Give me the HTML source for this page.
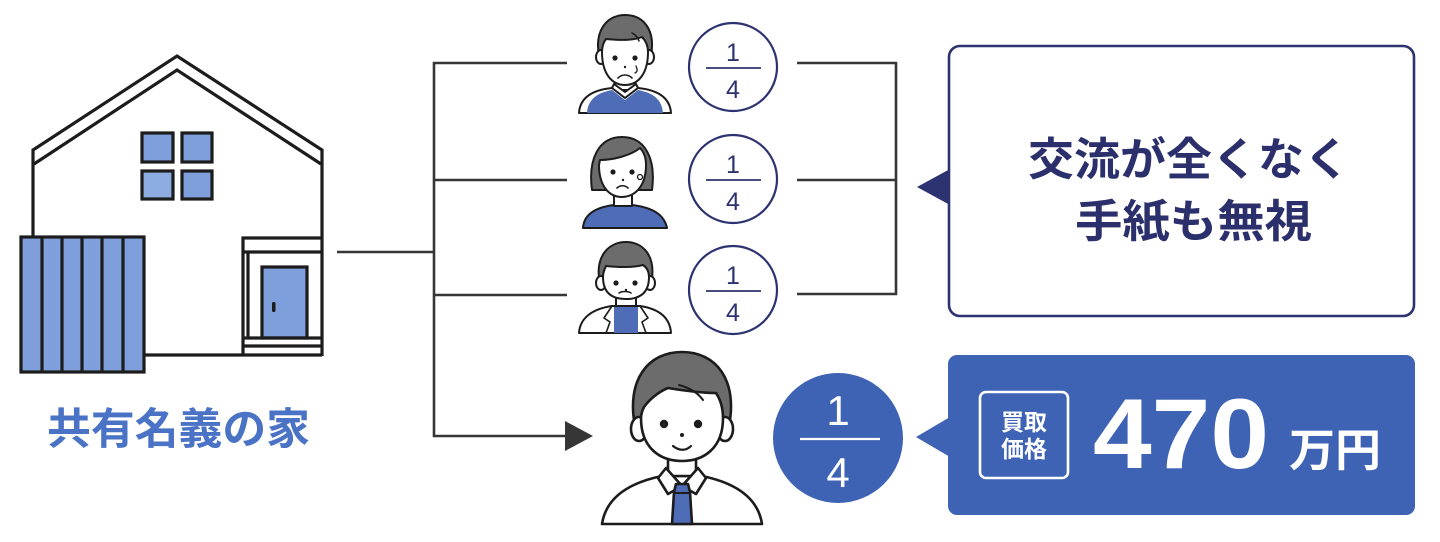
<!DOCTYPE html>
<html><head><meta charset="utf-8">
<style>
html,body{margin:0;padding:0;background:#fff;}
svg{display:block;}
.t{font-family:"Liberation Sans","Noto Sans CJK JP",sans-serif;}
</style></head>
<body>
<svg width="1440" height="542" viewBox="0 0 1440 542" xmlns="http://www.w3.org/2000/svg">
<rect width="1440" height="542" fill="#fff"/>

<!-- ===== HOUSE ===== -->
<g stroke="#1c1c1c" stroke-width="3.2" fill="none" stroke-linejoin="miter">
  <polyline points="33,237 33,150 177,56 322,150 322,356"/>
  <polyline points="34,164 177,70 321,164"/>
  <line x1="144" y1="355" x2="322" y2="355"/>
  <rect x="142" y="133" width="31" height="29" fill="#7f9fdc"/>
  <rect x="182" y="133" width="30" height="29" fill="#7f9fdc"/>
  <rect x="142" y="171" width="31" height="28" fill="#8dade2"/>
  <rect x="182" y="171" width="30" height="28" fill="#7f9fdc"/>
  <rect x="21" y="237" width="123" height="135" fill="#7f9fdc"/>
  <line x1="42" y1="237" x2="42" y2="372"/>
  <line x1="62" y1="237" x2="62" y2="372"/>
  <line x1="82" y1="237" x2="82" y2="372"/>
  <line x1="102" y1="237" x2="102" y2="372"/>
  <line x1="123" y1="237" x2="123" y2="372"/>
  <polyline points="243,355 243,238 322,238"/>
  <line x1="243" y1="252" x2="322" y2="252"/>
  <line x1="248" y1="252" x2="248" y2="338"/>
  <rect x="262" y="267" width="45" height="71" fill="#7f9fdc"/>
  <line x1="243" y1="338" x2="322" y2="338"/>
  <line x1="243" y1="346" x2="322" y2="346"/>
</g>
<rect x="272" y="302" width="3.5" height="10" rx="1.5" fill="#1c1c1c"/>

<text class="t" x="47" y="444" font-size="43" font-weight="bold" fill="#4a73c5" textLength="263" lengthAdjust="spacingAndGlyphs">共有名義の家</text>

<!-- ===== CONNECTORS ===== -->
<g stroke="#363636" stroke-width="2.6" fill="none">
  <line x1="337" y1="252" x2="434" y2="252"/>
  <line x1="434" y1="62" x2="434" y2="437"/>
  <line x1="433" y1="63" x2="567" y2="63"/>
  <line x1="433" y1="180" x2="567" y2="180"/>
  <line x1="433" y1="295" x2="567" y2="295"/>
  <line x1="433" y1="436" x2="570" y2="436"/>
  <line x1="797" y1="63" x2="897" y2="63"/>
  <line x1="797" y1="180" x2="897" y2="180"/>
  <line x1="797" y1="294" x2="897" y2="294"/>
  <line x1="896" y1="62" x2="896" y2="295"/>
</g>
<polygon points="565,421 593,436 565,451" fill="#363636"/>

<!-- ===== FRACTION CIRCLES ===== -->
<g stroke="#2d3270" stroke-width="2.2" fill="#fff">
  <circle cx="733" cy="67" r="44"/>
  <circle cx="733" cy="179" r="44"/>
  <circle cx="733" cy="290" r="44"/>
</g>
<g stroke="#2d3270" stroke-width="1.8">
  <line x1="706" y1="68" x2="761" y2="68"/>
  <line x1="706" y1="180" x2="761" y2="180"/>
  <line x1="706" y1="291" x2="761" y2="291"/>
</g>
<g class="t" font-size="25" fill="#2d3270" text-anchor="middle">
  <text x="733" y="61">1</text><text x="733" y="98">4</text>
  <text x="733" y="173">1</text><text x="733" y="210">4</text>
  <text x="733" y="284">1</text><text x="733" y="321">4</text>
</g>

<!-- ===== PERSON 1 (older man, vest) ===== -->
<g stroke="#1c1c1c" stroke-width="2" stroke-linejoin="round" stroke-linecap="round">
  <path d="M579,113 C580,98 592,90 612,88 L638,88 C658,90 670,98 671,113 Z" fill="#fff"/>
  <path d="M587,113 C588,100 596,93 612,90 L625,100 L638,90 C654,93 662,100 663,113 Z" fill="#4e6db6" stroke="none"/>
  <rect x="615" y="78" width="20" height="12" fill="#fff"/>
  <path d="M612,88 L625,98 L638,88 L636,84 L625,92 L614,84 Z" fill="#fff"/>
  <path d="M599,56 C594,28 609,15 625,15 C642,15 656,28 651,56 Z" fill="#6c6c6c"/>
  <ellipse cx="601" cy="57" rx="5" ry="7" fill="#fff"/>
  <ellipse cx="649" cy="57" rx="5" ry="7" fill="#fff"/>
  <path d="M602,52 C602,74 612,85 625,85 C638,85 648,74 648,52 C648,45 645,40 642,37 C632,41 616,40 606,39 C603,43 602,47 602,52 Z" fill="#fff"/>
  <path d="M632,33 C636,35 638,38 639,41" fill="none" stroke-width="1.5"/>
  <path d="M618,78 C622,74 628,74 632,78" fill="none" stroke-width="1.6"/>
  <path d="M636,66 C638,70 637,72 635,73" fill="none" stroke-width="1.3"/>
</g>
<circle cx="615" cy="58" r="2.6" fill="#1c1c1c"/>
<circle cx="635" cy="58" r="2.6" fill="#1c1c1c"/>
<circle cx="625" cy="67" r="1.2" fill="#1c1c1c"/>

<!-- ===== PERSON 2 (woman) ===== -->
<g stroke="#1c1c1c" stroke-width="2" stroke-linejoin="round" stroke-linecap="round">
  <path d="M583,228 C584,213 598,207 614,205 L632,205 C650,207 664,213 667,228 Z" fill="#4e6db6"/>
  <rect x="614" y="194" width="18" height="12" fill="#fff"/>
  <path d="M592,190 C588,160 598,137 622,137 C646,137 656,160 652,190 Z" fill="#6c6c6c"/>
  <path d="M599,165 C599,186 609,197 622,197 C635,197 646,186 646,165 C646,156 643,151 640,148 C630,156 612,160 600,160 Z" fill="#fff"/>
  <circle cx="640" cy="177" r="2.5" fill="#fff" stroke-width="1.3"/>
  <path d="M617,188 C620,185 625,185 628,188" fill="none" stroke-width="1.6"/>
</g>
<circle cx="613" cy="172" r="2.6" fill="#1c1c1c"/>
<circle cx="632" cy="172" r="2.6" fill="#1c1c1c"/>
<circle cx="623" cy="180" r="1.2" fill="#1c1c1c"/>

<!-- ===== PERSON 3 (jacket) ===== -->
<g stroke="#1c1c1c" stroke-width="2" stroke-linejoin="round" stroke-linecap="round">
  <path d="M579,333 C580,318 592,309 612,306 L640,306 C660,309 670,318 671,333 Z" fill="#fff"/>
  <path d="M614,333 L614,307 L638,307 L638,333 Z" fill="#4e6db6" stroke="none"/>
  <path d="M612,306 L604,318 L610,322 L606,333 M640,306 L648,318 L642,322 L646,333" fill="none" stroke-width="1.6"/>
  <rect x="616" y="294" width="20" height="12" fill="#fff"/>
  <path d="M600,284 C594,256 609,242 626,242 C643,242 657,256 651,284 Z" fill="#6c6c6c"/>
  <ellipse cx="601" cy="283" rx="5" ry="7" fill="#fff"/>
  <ellipse cx="650" cy="283" rx="5" ry="7" fill="#fff"/>
  <path d="M603,277 C603,293 612,299 626,299 C640,299 649,293 649,277 C649,271 646,267 643,265 C632,268 616,267 606,266 C604,270 603,273 603,277 Z" fill="#fff"/>
  <path d="M619,293 C622,291 628,291 631,293" fill="none" stroke-width="1.6"/>
</g>
<circle cx="616" cy="283" r="2.6" fill="#1c1c1c"/>
<circle cx="635" cy="283" r="2.6" fill="#1c1c1c"/>
<circle cx="626" cy="290" r="1.2" fill="#1c1c1c"/>

<!-- ===== BIG PERSON ===== -->
<g stroke="#1c1c1c" stroke-width="2.6" stroke-linejoin="round" stroke-linecap="round">
  <path d="M602,524 C606,498 628,483 662,476 L702,476 C736,483 758,498 762,524 Z" fill="#fff"/>
  <rect x="668" y="452" width="28" height="24" fill="#fff"/>
  <path d="M666,468 L682,486 L698,468 L706,478 L696,494 L682,486 L668,494 L658,478 Z" fill="#fff"/>
  <path d="M676,484 L688,484 L690,492 L692,524 L672,524 L674,492 Z" fill="#4e6db6"/>
  <line x1="674" y1="493" x2="690" y2="493" stroke-width="2"/>
  <path d="M635,426 C626,380 648,352 682,352 C716,352 738,380 729,426 Z" fill="#6c6c6c"/>
  <ellipse cx="639" cy="429" rx="8" ry="12" fill="#fff"/>
  <ellipse cx="725" cy="429" rx="8" ry="12" fill="#fff"/>
  <path d="M641,418 C641,448 660,461 682,461 C704,461 723,448 723,418 C723,407 720,399 716,393 C700,393 680,390 668,388 C658,392 649,400 644,407 C642,411 641,414 641,418 Z" fill="#fff"/>
  <path d="M679,385 C690,388 698,393 703,400" fill="none" stroke-width="2"/>
  <path d="M673,446 C679,451 686,451 691,446" fill="none" stroke-width="2.2"/>
</g>
<circle cx="664" cy="424" r="4.2" fill="#1c1c1c"/>
<circle cx="698" cy="424" r="4.2" fill="#1c1c1c"/>
<circle cx="682" cy="435" r="2" fill="#1c1c1c"/>

<!-- ===== BIG FILLED CIRCLE ===== -->
<circle cx="838" cy="438" r="65" fill="#3e62b4"/>
<line x1="800" y1="439" x2="880" y2="439" stroke="#fff" stroke-width="2.2"/>
<text class="t" x="838" y="425" font-size="42" fill="#fff" text-anchor="middle">1</text>
<text class="t" x="838" y="487" font-size="42" fill="#fff" text-anchor="middle">4</text>

<!-- ===== TOP RIGHT BOX ===== -->
<rect x="949" y="46" width="465" height="270" rx="11" fill="#fff" stroke="#2d3270" stroke-width="2.6"/>
<polygon points="917,187 950,169 950,205" fill="#2d3270"/>
<text class="t" x="1028" y="175" font-size="45" font-weight="bold" fill="#2b2f6b" textLength="322" lengthAdjust="spacingAndGlyphs">交流が全くなく</text>
<text class="t" x="1075" y="237" font-size="45" font-weight="bold" fill="#2b2f6b" textLength="237" lengthAdjust="spacingAndGlyphs">手紙も無視</text>

<!-- ===== PRICE BOX ===== -->
<rect x="948" y="355" width="467" height="160" rx="9" fill="#3e62b4"/>
<polygon points="916,437 950,417 950,457" fill="#3e62b4"/>
<rect x="980" y="392" width="88" height="86" rx="6" fill="none" stroke="#fff" stroke-width="2.6"/>
<text class="t" x="1024" y="430" font-size="23" font-weight="bold" fill="#fff" text-anchor="middle">買取</text>
<text class="t" x="1024" y="457" font-size="23" font-weight="bold" fill="#fff" text-anchor="middle">価格</text>
<text class="t" x="1093" y="468" font-size="99" font-weight="bold" fill="#fff" textLength="176" lengthAdjust="spacingAndGlyphs">470</text>
<text class="t" x="1289" y="466" font-size="45" font-weight="bold" fill="#fff" textLength="92" lengthAdjust="spacingAndGlyphs">万円</text>
</svg>
</body></html>
